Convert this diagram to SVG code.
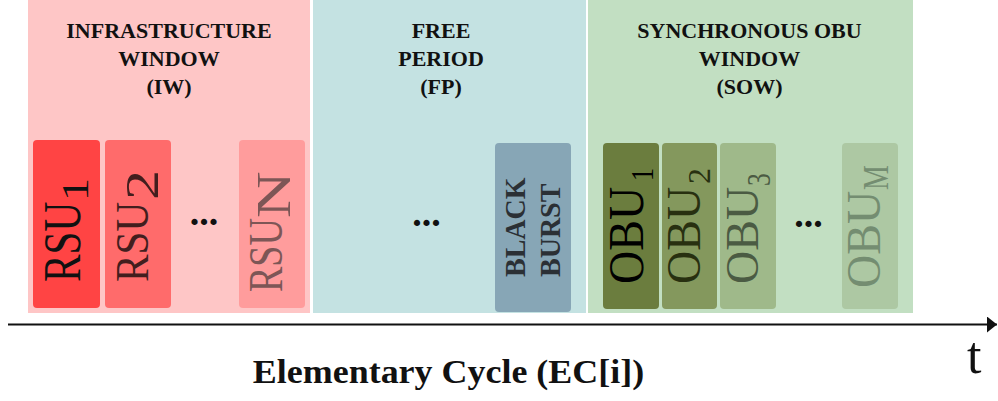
<svg xmlns="http://www.w3.org/2000/svg" width="998" height="401" viewBox="0 0 998 401">
  <style>
    .hdr { font-family: "Liberation Serif", "Times New Roman", serif; font-weight: bold; font-size: 22px; fill: #111; text-anchor: middle; }
    .slot { font-family: "Liberation Serif", "Times New Roman", serif; font-weight: normal; }
    .bb { font-family: "Liberation Serif", "Times New Roman", serif; font-weight: bold; font-size: 28px; fill: #2b3035; }
    .dots { font-family: "Liberation Serif", "Times New Roman", serif; font-weight: bold; font-size: 38px; fill: #111; text-anchor: middle; }
    .axis { stroke: #111; stroke-width: 2.2; fill: none; }
  </style>
  <defs>
    <marker id="arrow" viewBox="0 0 10 16" refX="10" refY="8" markerWidth="10" markerHeight="16" markerUnits="userSpaceOnUse" orient="auto">
      <path d="M0,0 L10,8 L0,16 Z" fill="#111"/>
    </marker>
  </defs>

  <rect width="998" height="401" fill="#ffffff"/>

  <!-- Infrastructure window -->
  <g id="iw">
    <rect x="28" y="0" width="282" height="313" fill="#fec6c6"/>
    <text class="hdr" x="169" y="37.5">INFRASTRUCTURE</text>
    <text class="hdr" x="169" y="66">WINDOW</text>
    <text class="hdr" x="169" y="94">(IW)</text>
    <text class="dots" x="204" y="225">...</text>
  </g>
  <g id="rsu1">
    <rect x="33" y="140" width="67" height="168" rx="4" fill="#ff4444"/>
    <text class="slot" font-size="40" fill="#111" transform="translate(80,282) rotate(-90) scale(1.03,1.32)">RSU</text>
    <text class="slot" font-size="40" fill="#111" transform="translate(88,201) rotate(-90) scale(1.15,0.95)">1</text>
  </g>
  <g id="rsu2">
    <rect x="105" y="140" width="66" height="168" rx="4" fill="#ff6b6b"/>
    <text class="slot" font-size="40" fill="#421e1e" transform="translate(148,282) rotate(-90) scale(1.03,1.17)">RSU</text>
    <text class="slot" font-size="40" fill="#421e1e" transform="translate(158,200) rotate(-90) scale(1.5,1.15)">2</text>
  </g>
  <g id="rsun">
    <rect x="239" y="140" width="66" height="168" rx="4" fill="#ff9c9c"/>
    <text class="slot" font-size="38" fill="#7d5656" transform="translate(282,292) rotate(-90) scale(1.0,1.27)">RSU</text>
    <text class="slot" font-size="38" fill="#7d5656" transform="translate(290,218) rotate(-90) scale(1.7,1.27)">N</text>
  </g>

  <!-- Free period -->
  <g id="fp">
    <rect x="313" y="0" width="273" height="313" fill="#c4e2e2"/>
    <text class="hdr" x="441" y="37.5">FREE</text>
    <text class="hdr" x="441" y="66">PERIOD</text>
    <text class="hdr" x="441" y="94">(FP)</text>
    <text class="dots" x="426.5" y="225.5">...</text>
  </g>
  <g id="black-burst">
    <rect x="495" y="143" width="76" height="169" rx="4" fill="#87a6b6"/>
    <text class="bb" transform="translate(525,277) rotate(-90) scale(1,1.06)">BLACK</text>
    <text class="bb" transform="translate(560,277) rotate(-90) scale(1,1.06)">BURST</text>
  </g>

  <!-- Synchronous OBU window -->
  <g id="sow">
    <rect x="588" y="0" width="325" height="313" fill="#c2dfc2"/>
    <text class="hdr" x="749.5" y="37.5">SYNCHRONOUS OBU</text>
    <text class="hdr" x="749.5" y="66">WINDOW</text>
    <text class="hdr" x="749.5" y="94">(SOW)</text>
    <text class="dots" x="808.5" y="227">...</text>
  </g>
  <g id="obu1">
    <rect x="603" y="143" width="56" height="166" rx="4" fill="#6b7d3e"/>
    <text class="slot" font-size="46" fill="#000" transform="translate(643,284) rotate(-90) scale(1,1.08)">OBU</text>
    <text class="slot" font-size="26" fill="#000" transform="translate(653,181) rotate(-90) scale(1,1.2)">1</text>
  </g>
  <g id="obu2">
    <rect x="662" y="143" width="55" height="166" rx="4" fill="#84985d"/>
    <text class="slot" font-size="46" fill="#283010" transform="translate(700,284) rotate(-90) scale(1,1.05)">OBU</text>
    <text class="slot" font-size="32" fill="#283010" transform="translate(710,184) rotate(-90)">2</text>
  </g>
  <g id="obu3">
    <rect x="720" y="143" width="56" height="166" rx="4" fill="#9fb98a"/>
    <text class="slot" font-size="46" fill="#4b5b43" transform="translate(758,284) rotate(-90) scale(1,1.03)">OBU</text>
    <text class="slot" font-size="30" fill="#4b5b43" transform="translate(770,186) rotate(-90) scale(0.85,1.1)">3</text>
  </g>
  <g id="obum">
    <rect x="842" y="143" width="56" height="166" rx="4" fill="#adc8a3"/>
    <text class="slot" font-size="46" fill="#748d71" transform="translate(880,288) rotate(-90) scale(1,1.05)">OBU</text>
    <text class="slot" font-size="30" fill="#748d71" transform="translate(888,190) rotate(-90) scale(0.93,1.16)">M</text>
  </g>

  <!-- Time axis -->
  <g id="connectors">
    <line class="axis" x1="8" y1="324.5" x2="997" y2="324.5" marker-end="url(#arrow)"/>
  </g>
  <text x="967" y="373" font-family="'Liberation Serif', 'Times New Roman', serif" font-size="52" fill="#111">t</text>
  <text font-family="'Liberation Serif', 'Times New Roman', serif" font-weight="bold" font-size="33" fill="#111" text-anchor="middle" transform="translate(448.5,383) scale(1.09,1)">Elementary Cycle (EC[i])</text>
</svg>
